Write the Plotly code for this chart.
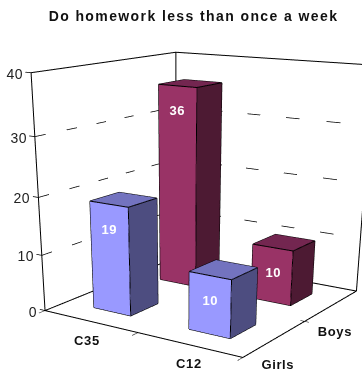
import plotly.graph_objects as go

title = "Do homework less than once a week"
categories = ["C35", "C12"]
series = ["Girls", "Boys"]
girls = [19, 10]
boys = [36, 10]
z_ticks = [0, 10, 20, 30, 40]
grid_vals = [10, 20, 30]

series_colors = {
    "Girls": ("#9999FF", "#7373BF", "#4D4D80"),
    "Boys": ("#993366", "#732650", "#4D1A33"),
}
half_bar = 0.2
XL, XH = -0.5, 1.5
YL, YH = -0.5, 1.5
ZL, ZH = 0, 40
INK = "#000000"
FIG_H = 856

traces = []

def seg(xs, ys, zs, width=2.0, dash="solid", color=INK):
    return go.Scatter3d(x=xs, y=ys, z=zs, mode="lines",
                        line=dict(color=color, width=width, dash=dash),
                        hoverinfo="skip", showlegend=False)

def bar(cx, cy, h, cols):
    x0, x1 = cx - half_bar, cx + half_bar
    y0, y1 = cy - half_bar, cy + half_bar
    vx = [x0, x1, x1, x0, x0, x1, x1, x0]
    vy = [y0, y0, y1, y1, y0, y0, y1, y1]
    vz = [0, 0, 0, 0, h, h, h, h]
    front, top, side = cols
    tri = [(0,1,5,front),(0,5,4,front),(4,5,6,top),(4,6,7,top),(1,2,6,side),(1,6,5,side),
           (2,3,7,side),(2,7,6,side),(3,0,4,side),(3,4,7,side),(0,1,2,side),(0,2,3,side)]
    mesh = go.Mesh3d(x=vx, y=vy, z=vz,
                     i=[t[0] for t in tri], j=[t[1] for t in tri], k=[t[2] for t in tri],
                     facecolor=[t[3] for t in tri], flatshading=True,
                     lighting=dict(ambient=1, diffuse=0, specular=0, fresnel=0, roughness=1),
                     hoverinfo="skip", showscale=False)
    ex, ey, ez = [], [], []
    for a, b in [(0,1),(1,2),(2,3),(3,0),(4,5),(5,6),(6,7),(7,4),(0,4),(1,5),(2,6),(3,7)]:
        ex += [vx[a], vx[b], None]; ey += [vy[a], vy[b], None]; ez += [vz[a], vz[b], None]
    return [mesh, seg(ex, ey, ez, width=2.0)]

# walls and floor outline
traces.append(seg([XL, XH, XH, XL, XL], [YL, YL, YH, YH, YL], [ZL]*5))
traces.append(seg([XL, XL, XL, XH, XH], [YL, YL, YH, YH, YH], [ZL, ZH, ZH, ZH, ZL]))
traces.append(seg([XL, XL], [YH, YH], [ZL, ZH]))
for g in grid_vals:
    traces.append(seg([XL, XL, XH], [YL, YH, YH], [g, g, g], width=1.5, dash="longdash"))
# ticks
for v in z_ticks:
    traces.append(seg([XL - 0.06, XL], [YL, YL], [v, v], width=1.5))
for i in (0.5, XL, XH):
    traces.append(seg([i, i], [YL - 0.08, YL], [ZL, ZL], width=1))
for j in (0.5,):
    traces.append(seg([XH - 0.04, XH + 0.04], [j, j], [ZL, ZL], width=1))

annotations = []
def note(x, y, z, text, size=13, bold=True, color="#111111", xs=0, ys=0, xanchor="center"):
    annotations.append(dict(x=x, y=y, z=z, text=f"<b>{text}</b>" if bold else text, showarrow=False,
                            font=dict(family="Liberation Sans", size=size, color=color),
                            xanchor=xanchor, yanchor="middle", xshift=xs, yshift=ys))

for sj, (name, vals) in enumerate(zip(series, [girls, boys])):
    for ci, v in enumerate(vals):
        traces += bar(ci, sj, v, series_colors[name])
        note(ci, sj - half_bar, v, str(v), size=13, color="#FFFFFF", ys=-25)

for v in z_ticks:
    note(XL, YL, v, str(v), size=14, bold=False, color="#222222", xs=-6, ys=-1, xanchor="right")
for ci, c in enumerate(categories):
    note(ci, YL, ZL, c, ys=-19, xs=-3 if ci == 0 else 0)
for sj, s in enumerate(series):
    note(XH, sj, ZL, s, ys=-26, xs=3 if sj == 0 else 3)

fig = go.Figure(traces)
fig.update_layout(
    width=362, height=FIG_H, margin=dict(l=0, r=0, t=0, b=0),
    paper_bgcolor="white", showlegend=False,
    title=dict(text=f"<b>{title}</b>", x=193.5 / 362, xanchor="center", y=1 - 16 / FIG_H, yanchor="middle",
               font=dict(family="Liberation Sans", size=14, color="#111111")),
    scene=dict(
        domain=dict(x=[0, 1], y=[0, 1]),
        bgcolor="white",
        xaxis=dict(range=[XL - 0.1, XH + 0.1], visible=False),
        yaxis=dict(range=[YL - 0.1, YH + 0.1], visible=False),
        zaxis=dict(range=[ZL, ZH], visible=False),
        aspectmode="manual",
        aspectratio=dict(x=0.9893 * 1.1, y=1.1, z=0.9718),
        camera=dict(eye=dict(x=2.3586, y=-3.6781, z=0.9446),
                    center=dict(x=-0.0874, y=-0.0597, z=-1.1073),
                    up=dict(x=0.0051, y=0, z=1),
                    projection=dict(type="perspective")),
        annotations=annotations,
    ),
)
post = """
var s=document.createElement('style');
s.textContent="html,body{margin:0;padding:0;overflow:hidden} .gtitle{letter-spacing:1.4px} .annotation-text{letter-spacing:0.6px}";
document.head.appendChild(s);
"""
fig.write_html("out.html", config=dict(displayModeBar=False), post_script=post)
